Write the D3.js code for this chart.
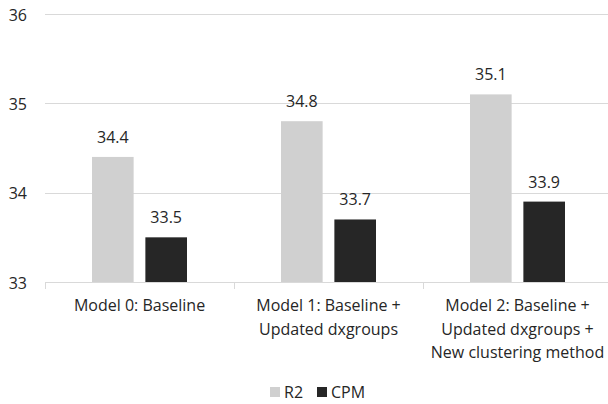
<!DOCTYPE html>
<html><head><meta charset="utf-8">
<script src="https://cdn.jsdelivr.net/npm/d3@7"></script>
<style>body{margin:0;background:#fff}svg{display:block}text{font-family:"Open Sans",sans-serif;fill:#262626}</style>
</head><body><svg id="c" width="608" height="404"></svg>
<script>
const categories = [
  ["Model 0: Baseline"],
  ["Model 1: Baseline +", "Updated dxgroups"],
  ["Model 2: Baseline +", "Updated dxgroups +", "New clustering method"]
];
const seriesNames = ["R2", "CPM"];
const r2Values = [34.4, 34.8, 35.1];
const cpmValues = [33.5, 33.7, 33.9];
const yTicks = [33, 34, 35, 36];
const colors = {R2: "#d0d0d0", CPM: "#262626"};

const svg = d3.select("#c");
const x0 = d3.scaleBand().domain(d3.range(categories.length)).range([45, 612]).padding(0);
const x1 = d3.scaleBand().domain(seriesNames).range([47, 142]).paddingInner(0.22).paddingOuter(0);
const y = d3.scaleLinear().domain([33, 36]).range([282, 14]);
const fs = "16px";

svg.append("g").selectAll("line").data(yTicks).join("line")
  .attr("x1", 45).attr("x2", 612)
  .attr("y1", d => Math.round(y(d)) + 0.5).attr("y2", d => Math.round(y(d)) + 0.5)
  .attr("stroke", "#d9d9d9").attr("stroke-width", 1);

svg.append("g").selectAll("text").data(yTicks).join("text")
  .attr("x", 27).attr("y", d => y(d) + 1).attr("dy", "0.35em")
  .attr("text-anchor", "end").style("font-size", fs).text(d => d);

svg.append("g").selectAll("line").data(d3.range(categories.length + 1)).join("line")
  .attr("x1", i => Math.round(i < categories.length ? x0(i) : x0(i-1) + x0.bandwidth()) + 0.5)
  .attr("x2", i => Math.round(i < categories.length ? x0(i) : x0(i-1) + x0.bandwidth()) + 0.5)
  .attr("y1", 282).attr("y2", 289).attr("stroke", "#d9d9d9");

const data = categories.map((c, i) => ({i, vals: [{s: "R2", v: r2Values[i]}, {s: "CPM", v: cpmValues[i]}]}));
const g = svg.append("g").selectAll("g").data(data).join("g")
  .attr("transform", d => `translate(${x0(d.i)},0)`);
g.selectAll("rect").data(d => d.vals).join("rect")
  .attr("x", d => x1(d.s)).attr("width", x1.bandwidth())
  .attr("y", d => y(d.v)).attr("height", d => y(33) - y(d.v))
  .attr("fill", d => colors[d.s]);
g.selectAll("text").data(d => d.vals).join("text")
  .attr("x", d => x1(d.s) + x1.bandwidth() / 2).attr("y", d => y(d.v) - 14)
  .attr("text-anchor", "middle").style("font-size", fs).text(d => d.v.toFixed(1));

const cl = svg.append("g").selectAll("text").data(categories).join("text")
  .attr("text-anchor", "middle").style("font-size", fs)
  .attr("transform", (d, i) => `translate(${x0(i) + x0.bandwidth()/2},311)`);
cl.selectAll("tspan").data(d => d).join("tspan")
  .attr("x", 0).attr("y", (d, j) => j * 23.5).text(d => d);

const lg = svg.append("g").attr("transform", "translate(270,392)");
const items = [{s: "R2", x: 0}, {s: "CPM", x: 47}];
lg.selectAll("rect").data(items).join("rect")
  .attr("x", d => d.x).attr("y", -5).attr("width", 10).attr("height", 10)
  .attr("fill", d => colors[d.s]);
lg.selectAll("text").data(items).join("text")
  .attr("x", d => d.x + 14).attr("y", 0).attr("dy", "0.35em")
  .style("font-size", fs).text(d => d.s);
</script></body></html>
